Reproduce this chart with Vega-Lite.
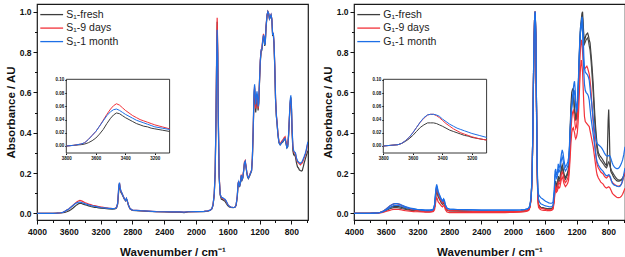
{
"$schema":"https://vega.github.io/schema/vega-lite/v6.json",
"padding":{"left":4,"top":3,"right":0,"bottom":0},
"spacing":12,
"resolve":{"scale":{"color":"independent"},"legend":{"color":"independent"}},
"config":{
 "font":"Liberation Sans",
 "view":{"stroke":"#1a1a1a","strokeWidth":1.2},
 "axis":{"labelFont":"Liberation Sans","labelFontWeight":"bold","titleFont":"Liberation Sans","titleFontWeight":"bold","labelColor":"#111","titleColor":"#111","tickColor":"#111","tickWidth":1,"domain":false,"grid":false,"labelFlush":false},
 "legend":{"labelFont":"Liberation Sans"}
},
"datasets":{
"S":[
{"w":4000,"f":0,"r":0,"b":0},{"w":3900,"f":0,"r":0,"b":0},{"w":3800,"f":0,"r":0,"b":0},
{"w":3750,"f":0.001,"r":0.001,"b":0.001},{"w":3700,"f":0.002,"r":0.003,"b":0.003},{"w":3675,"f":0.003,"r":0.005,"b":0.005},
{"w":3650,"f":0.005,"r":0.010,"b":0.010},{"w":3625,"f":0.008,"r":0.016,"b":0.016},{"w":3600,"f":0.012,"r":0.022,"b":0.022},
{"w":3575,"f":0.018,"r":0.030,"b":0.030},{"w":3550,"f":0.025,"r":0.039,"b":0.038},{"w":3525,"f":0.034,"r":0.048,"b":0.046},
{"w":3500,"f":0.042,"r":0.056,"b":0.052},{"w":3480,"f":0.047,"r":0.061,"b":0.055},{"w":3460,"f":0.050,"r":0.064,"b":0.056},
{"w":3440,"f":0.049,"r":0.062,"b":0.054},{"w":3420,"f":0.046,"r":0.058,"b":0.051},{"w":3400,"f":0.043,"r":0.054,"b":0.048},
{"w":3375,"f":0.040,"r":0.050,"b":0.045},{"w":3350,"f":0.037,"r":0.046,"b":0.042},{"w":3325,"f":0.034,"r":0.043,"b":0.039},
{"w":3300,"f":0.032,"r":0.040,"b":0.037},{"w":3275,"f":0.030,"r":0.038,"b":0.035},{"w":3250,"f":0.029,"r":0.036,"b":0.033},
{"w":3225,"f":0.027,"r":0.034,"b":0.031},{"w":3200,"f":0.026,"r":0.032,"b":0.029},{"w":3150,"f":0.024,"r":0.029,"b":0.027},
{"w":3100,"f":0.022,"r":0.026,"b":0.025},{"w":3050,"f":0.021,"r":0.024,"b":0.023},{"w":3020,"f":0.022,"r":0.025,"b":0.024},
{"w":3000,"f":0.026,"r":0.029,"b":0.028},{"w":2985,"f":0.045,"r":0.050,"b":0.050},{"w":2970,"f":0.120,"r":0.135,"b":0.140},
{"w":2962,"f":0.145,"r":0.150,"b":0.152},{"w":2955,"f":0.125,"r":0.130,"b":0.130},{"w":2945,"f":0.105,"r":0.110,"b":0.112},
{"w":2930,"f":0.095,"r":0.100,"b":0.100},{"w":2915,"f":0.082,"r":0.085,"b":0.085},{"w":2900,"f":0.070,"r":0.072,"b":0.072},
{"w":2885,"f":0.062,"r":0.064,"b":0.064},{"w":2875,"f":0.072,"r":0.073,"b":0.074},{"w":2865,"f":0.062,"r":0.063,"b":0.064},
{"w":2850,"f":0.040,"r":0.042,"b":0.042},{"w":2830,"f":0.022,"r":0.024,"b":0.024},{"w":2800,"f":0.015,"r":0.016,"b":0.016},
{"w":2700,"f":0.012,"r":0.013,"b":0.013},{"w":2600,"f":0.010,"r":0.011,"b":0.011},{"w":2500,"f":0.008,"r":0.009,"b":0.009},
{"w":2400,"f":0.007,"r":0.008,"b":0.008},{"w":2300,"f":0.006,"r":0.007,"b":0.007},{"w":2200,"f":0.006,"r":0.007,"b":0.007},
{"w":2150,"f":0.004,"r":0.006,"b":0.006},{"w":2100,"f":0.007,"r":0.008,"b":0.008},{"w":2000,"f":0.008,"r":0.009,"b":0.009},
{"w":1900,"f":0.009,"r":0.010,"b":0.010},{"w":1850,"f":0.011,"r":0.012,"b":0.012},{"w":1820,"f":0.015,"r":0.016,"b":0.016},
{"w":1800,"f":0.022,"r":0.023,"b":0.023},{"w":1785,"f":0.040,"r":0.042,"b":0.042},{"w":1770,"f":0.090,"r":0.095,"b":0.095},
{"w":1758,"f":0.200,"r":0.210,"b":0.210},{"w":1748,"f":0.450,"r":0.470,"b":0.460},{"w":1740,"f":0.750,"r":0.780,"b":0.740},
{"w":1733,"f":0.950,"r":0.970,"b":0.910},{"w":1726,"f":0.800,"r":0.820,"b":0.780},{"w":1718,"f":0.450,"r":0.470,"b":0.440},
{"w":1708,"f":0.180,"r":0.190,"b":0.180},{"w":1695,"f":0.090,"r":0.095,"b":0.095},{"w":1680,"f":0.070,"r":0.078,"b":0.080},
{"w":1665,"f":0.068,"r":0.075,"b":0.078},{"w":1650,"f":0.064,"r":0.070,"b":0.074},{"w":1635,"f":0.060,"r":0.068,"b":0.070},
{"w":1620,"f":0.050,"r":0.060,"b":0.062},{"w":1600,"f":0.038,"r":0.045,"b":0.045},{"w":1580,"f":0.032,"r":0.035,"b":0.035},
{"w":1560,"f":0.030,"r":0.031,"b":0.031},{"w":1530,"f":0.028,"r":0.029,"b":0.029},{"w":1510,"f":0.030,"r":0.030,"b":0.030},
{"w":1495,"f":0.040,"r":0.040,"b":0.040},{"w":1480,"f":0.080,"r":0.085,"b":0.085},{"w":1470,"f":0.140,"r":0.150,"b":0.150},
{"w":1462,"f":0.155,"r":0.160,"b":0.158},{"w":1452,"f":0.130,"r":0.135,"b":0.132},{"w":1440,"f":0.150,"r":0.155,"b":0.152},
{"w":1430,"f":0.185,"r":0.192,"b":0.190},{"w":1420,"f":0.165,"r":0.170,"b":0.168},{"w":1410,"f":0.175,"r":0.180,"b":0.178},
{"w":1400,"f":0.210,"r":0.215,"b":0.210},{"w":1390,"f":0.245,"r":0.255,"b":0.250},{"w":1380,"f":0.255,"r":0.262,"b":0.258},
{"w":1370,"f":0.230,"r":0.235,"b":0.232},{"w":1360,"f":0.200,"r":0.205,"b":0.202},{"w":1350,"f":0.180,"r":0.185,"b":0.182},
{"w":1340,"f":0.172,"r":0.178,"b":0.175},{"w":1325,"f":0.185,"r":0.190,"b":0.188},{"w":1310,"f":0.200,"r":0.205,"b":0.203},
{"w":1300,"f":0.210,"r":0.215,"b":0.212},{"w":1290,"f":0.270,"r":0.275,"b":0.272},{"w":1280,"f":0.400,"r":0.410,"b":0.410},
{"w":1270,"f":0.560,"r":0.580,"b":0.600},{"w":1262,"f":0.620,"r":0.630,"b":0.640},{"w":1255,"f":0.560,"r":0.570,"b":0.590},
{"w":1248,"f":0.500,"r":0.520,"b":0.540},{"w":1240,"f":0.540,"r":0.560,"b":0.580},{"w":1232,"f":0.580,"r":0.590,"b":0.605},
{"w":1225,"f":0.560,"r":0.570,"b":0.580},{"w":1218,"f":0.510,"r":0.520,"b":0.530},{"w":1210,"f":0.540,"r":0.550,"b":0.550},
{"w":1200,"f":0.650,"r":0.660,"b":0.660},{"w":1190,"f":0.750,"r":0.760,"b":0.760},{"w":1180,"f":0.800,"r":0.810,"b":0.810},
{"w":1170,"f":0.810,"r":0.820,"b":0.815},{"w":1160,"f":0.850,"r":0.860,"b":0.855},{"w":1150,"f":0.880,"r":0.890,"b":0.885},
{"w":1142,"f":0.870,"r":0.875,"b":0.870},{"w":1135,"f":0.830,"r":0.840,"b":0.835},{"w":1128,"f":0.840,"r":0.850,"b":0.845},
{"w":1118,"f":0.920,"r":0.930,"b":0.925},{"w":1105,"f":0.980,"r":0.985,"b":0.985},{"w":1095,"f":1.000,"r":1.000,"b":1.000},
{"w":1085,"f":0.990,"r":0.990,"b":0.992},{"w":1075,"f":0.965,"r":0.965,"b":0.965},{"w":1065,"f":0.970,"r":0.975,"b":0.975},
{"w":1055,"f":0.985,"r":0.985,"b":0.985},{"w":1045,"f":0.960,"r":0.965,"b":0.962},{"w":1035,"f":0.880,"r":0.885,"b":0.885},
{"w":1027,"f":0.890,"r":0.895,"b":0.895},{"w":1018,"f":0.840,"r":0.850,"b":0.850},{"w":1008,"f":0.720,"r":0.730,"b":0.730},
{"w":998,"f":0.560,"r":0.570,"b":0.565},{"w":988,"f":0.480,"r":0.490,"b":0.485},{"w":978,"f":0.440,"r":0.445,"b":0.440},
{"w":968,"f":0.390,"r":0.395,"b":0.390},{"w":955,"f":0.350,"r":0.355,"b":0.350},{"w":940,"f":0.340,"r":0.345,"b":0.340},
{"w":920,"f":0.350,"r":0.358,"b":0.352},{"w":905,"f":0.355,"r":0.365,"b":0.358},{"w":890,"f":0.365,"r":0.375,"b":0.368},
{"w":878,"f":0.370,"r":0.380,"b":0.372},{"w":866,"f":0.345,"r":0.355,"b":0.345},{"w":855,"f":0.325,"r":0.335,"b":0.325},
{"w":845,"f":0.330,"r":0.340,"b":0.332},{"w":835,"f":0.380,"r":0.390,"b":0.385},{"w":825,"f":0.460,"r":0.470,"b":0.470},
{"w":815,"f":0.540,"r":0.545,"b":0.560},{"w":806,"f":0.575,"r":0.570,"b":0.585},{"w":798,"f":0.520,"r":0.515,"b":0.530},
{"w":790,"f":0.400,"r":0.410,"b":0.420},{"w":780,"f":0.310,"r":0.330,"b":0.335},{"w":770,"f":0.290,"r":0.305,"b":0.310},
{"w":760,"f":0.290,"r":0.300,"b":0.305},{"w":748,"f":0.280,"r":0.295,"b":0.300},{"w":735,"f":0.250,"r":0.270,"b":0.275},
{"w":722,"f":0.230,"r":0.255,"b":0.260},{"w":710,"f":0.225,"r":0.250,"b":0.255},{"w":698,"f":0.215,"r":0.245,"b":0.250},
{"w":686,"f":0.212,"r":0.240,"b":0.248},{"w":675,"f":0.210,"r":0.245,"b":0.252},{"w":662,"f":0.212,"r":0.250,"b":0.258},
{"w":650,"f":0.230,"r":0.262,"b":0.270},{"w":638,"f":0.250,"r":0.275,"b":0.282},{"w":625,"f":0.268,"r":0.290,"b":0.296},
{"w":612,"f":0.285,"r":0.310,"b":0.315},{"w":600,"f":0.300,"r":0.335,"b":0.340},{"w":590,"f":0.310,"r":0.350,"b":0.355}
],
"G":[
{"w":4000,"f1":0,"f2":0,"r1":0,"r2":0,"b1":0,"b2":0},
{"w":3900,"f1":0,"f2":0,"r1":0,"r2":0,"b1":0,"b2":0},
{"w":3800,"f1":0,"f2":0,"r1":0,"r2":0,"b1":0,"b2":0},
{"w":3750,"f1":0.001,"f2":0.001,"r1":0.001,"r2":0.001,"b1":0.001,"b2":0.001},
{"w":3700,"f1":0.002,"f2":0.002,"r1":0.002,"r2":0.001,"b1":0.002,"b2":0.002},
{"w":3675,"f1":0.004,"f2":0.003,"r1":0.004,"r2":0.002,"b1":0.004,"b2":0.003},
{"w":3650,"f1":0.007,"f2":0.006,"r1":0.008,"r2":0.004,"b1":0.008,"b2":0.006},
{"w":3625,"f1":0.011,"f2":0.009,"r1":0.013,"r2":0.006,"b1":0.013,"b2":0.010},
{"w":3600,"f1":0.016,"f2":0.013,"r1":0.020,"r2":0.009,"b1":0.020,"b2":0.015},
{"w":3575,"f1":0.022,"f2":0.018,"r1":0.028,"r2":0.012,"b1":0.028,"b2":0.021},
{"w":3550,"f1":0.028,"f2":0.023,"r1":0.036,"r2":0.015,"b1":0.036,"b2":0.028},
{"w":3525,"f1":0.032,"f2":0.026,"r1":0.042,"r2":0.018,"b1":0.043,"b2":0.034},
{"w":3500,"f1":0.035,"f2":0.028,"r1":0.047,"r2":0.020,"b1":0.047,"b2":0.038},
{"w":3480,"f1":0.035,"f2":0.028,"r1":0.048,"r2":0.020,"b1":0.048,"b2":0.040},
{"w":3460,"f1":0.035,"f2":0.028,"r1":0.048,"r2":0.020,"b1":0.048,"b2":0.040},
{"w":3440,"f1":0.034,"f2":0.027,"r1":0.046,"r2":0.019,"b1":0.047,"b2":0.039},
{"w":3420,"f1":0.032,"f2":0.026,"r1":0.043,"r2":0.018,"b1":0.045,"b2":0.037},
{"w":3400,"f1":0.030,"f2":0.024,"r1":0.039,"r2":0.017,"b1":0.041,"b2":0.034},
{"w":3375,"f1":0.027,"f2":0.022,"r1":0.034,"r2":0.015,"b1":0.037,"b2":0.031},
{"w":3350,"f1":0.024,"f2":0.020,"r1":0.030,"r2":0.013,"b1":0.033,"b2":0.028},
{"w":3325,"f1":0.022,"f2":0.018,"r1":0.026,"r2":0.012,"b1":0.030,"b2":0.026},
{"w":3300,"f1":0.020,"f2":0.016,"r1":0.023,"r2":0.011,"b1":0.027,"b2":0.024},
{"w":3275,"f1":0.018,"f2":0.015,"r1":0.020,"r2":0.010,"b1":0.025,"b2":0.022},
{"w":3250,"f1":0.016,"f2":0.014,"r1":0.018,"r2":0.009,"b1":0.023,"b2":0.021},
{"w":3225,"f1":0.015,"f2":0.013,"r1":0.016,"r2":0.008,"b1":0.021,"b2":0.020},
{"w":3200,"f1":0.013,"f2":0.012,"r1":0.014,"r2":0.008,"b1":0.019,"b2":0.019},
{"w":3150,"f1":0.011,"f2":0.011,"r1":0.011,"r2":0.007,"b1":0.016,"b2":0.018},
{"w":3100,"f1":0.009,"f2":0.010,"r1":0.009,"r2":0.006,"b1":0.013,"b2":0.017},
{"w":3050,"f1":0.009,"f2":0.010,"r1":0.009,"r2":0.006,"b1":0.013,"b2":0.017},
{"w":3020,"f1":0.010,"f2":0.011,"r1":0.010,"r2":0.007,"b1":0.015,"b2":0.018},
{"w":3000,"f1":0.014,"f2":0.014,"r1":0.014,"r2":0.009,"b1":0.020,"b2":0.022},
{"w":2985,"f1":0.035,"f2":0.032,"r1":0.035,"r2":0.020,"b1":0.045,"b2":0.045},
{"w":2970,"f1":0.100,"f2":0.090,"r1":0.100,"r2":0.060,"b1":0.120,"b2":0.115},
{"w":2960,"f1":0.122,"f2":0.110,"r1":0.125,"r2":0.078,"b1":0.144,"b2":0.135},
{"w":2952,"f1":0.112,"f2":0.100,"r1":0.115,"r2":0.072,"b1":0.132,"b2":0.125},
{"w":2942,"f1":0.092,"f2":0.082,"r1":0.095,"r2":0.058,"b1":0.110,"b2":0.105},
{"w":2930,"f1":0.082,"f2":0.074,"r1":0.085,"r2":0.052,"b1":0.098,"b2":0.094},
{"w":2915,"f1":0.068,"f2":0.062,"r1":0.070,"r2":0.044,"b1":0.084,"b2":0.080},
{"w":2900,"f1":0.055,"f2":0.050,"r1":0.058,"r2":0.036,"b1":0.070,"b2":0.066},
{"w":2885,"f1":0.048,"f2":0.044,"r1":0.050,"r2":0.032,"b1":0.062,"b2":0.058},
{"w":2872,"f1":0.058,"f2":0.052,"r1":0.060,"r2":0.040,"b1":0.072,"b2":0.068},
{"w":2862,"f1":0.050,"f2":0.045,"r1":0.052,"r2":0.034,"b1":0.064,"b2":0.060},
{"w":2850,"f1":0.030,"f2":0.028,"r1":0.032,"r2":0.018,"b1":0.042,"b2":0.040},
{"w":2830,"f1":0.016,"f2":0.016,"r1":0.018,"r2":0.007,"b1":0.026,"b2":0.025},
{"w":2800,"f1":0.012,"f2":0.013,"r1":0.013,"r2":0.004,"b1":0.021,"b2":0.021},
{"w":2700,"f1":0.012,"f2":0.012,"r1":0.012,"r2":0.004,"b1":0.019,"b2":0.019},
{"w":2600,"f1":0.011,"f2":0.011,"r1":0.011,"r2":0.004,"b1":0.018,"b2":0.018},
{"w":2500,"f1":0.010,"f2":0.010,"r1":0.010,"r2":0.004,"b1":0.017,"b2":0.017},
{"w":2400,"f1":0.010,"f2":0.010,"r1":0.010,"r2":0.004,"b1":0.016,"b2":0.016},
{"w":2300,"f1":0.009,"f2":0.010,"r1":0.009,"r2":0.004,"b1":0.016,"b2":0.016},
{"w":2200,"f1":0.009,"f2":0.009,"r1":0.009,"r2":0.004,"b1":0.016,"b2":0.016},
{"w":2100,"f1":0.009,"f2":0.009,"r1":0.009,"r2":0.004,"b1":0.016,"b2":0.016},
{"w":2000,"f1":0.009,"f2":0.010,"r1":0.009,"r2":0.005,"b1":0.016,"b2":0.016},
{"w":1900,"f1":0.010,"f2":0.011,"r1":0.010,"r2":0.006,"b1":0.017,"b2":0.017},
{"w":1850,"f1":0.012,"f2":0.013,"r1":0.012,"r2":0.008,"b1":0.019,"b2":0.019},
{"w":1820,"f1":0.015,"f2":0.016,"r1":0.015,"r2":0.011,"b1":0.022,"b2":0.022},
{"w":1800,"f1":0.020,"f2":0.020,"r1":0.020,"r2":0.015,"b1":0.027,"b2":0.026},
{"w":1785,"f1":0.035,"f2":0.035,"r1":0.035,"r2":0.030,"b1":0.042,"b2":0.040},
{"w":1770,"f1":0.080,"f2":0.080,"r1":0.080,"r2":0.075,"b1":0.090,"b2":0.085},
{"w":1758,"f1":0.200,"f2":0.200,"r1":0.200,"r2":0.195,"b1":0.210,"b2":0.205},
{"w":1748,"f1":0.450,"f2":0.450,"r1":0.450,"r2":0.450,"b1":0.460,"b2":0.455},
{"w":1738,"f1":0.780,"f2":0.780,"r1":0.780,"r2":0.780,"b1":0.790,"b2":0.785},
{"w":1728,"f1":0.960,"f2":0.960,"r1":0.960,"r2":0.960,"b1":0.960,"b2":0.960},
{"w":1720,"f1":1.000,"f2":1.000,"r1":1.000,"r2":1.000,"b1":1.000,"b2":1.000},
{"w":1712,"f1":0.880,"f2":0.880,"r1":0.870,"r2":0.860,"b1":0.890,"b2":0.885},
{"w":1704,"f1":0.550,"f2":0.550,"r1":0.530,"r2":0.520,"b1":0.570,"b2":0.560},
{"w":1696,"f1":0.250,"f2":0.250,"r1":0.240,"r2":0.230,"b1":0.280,"b2":0.270},
{"w":1688,"f1":0.100,"f2":0.100,"r1":0.090,"r2":0.080,"b1":0.130,"b2":0.110},
{"w":1678,"f1":0.045,"f2":0.042,"r1":0.038,"r2":0.030,"b1":0.095,"b2":0.070},
{"w":1665,"f1":0.035,"f2":0.033,"r1":0.030,"r2":0.022,"b1":0.085,"b2":0.055},
{"w":1650,"f1":0.030,"f2":0.030,"r1":0.026,"r2":0.018,"b1":0.078,"b2":0.048},
{"w":1630,"f1":0.028,"f2":0.028,"r1":0.024,"r2":0.016,"b1":0.072,"b2":0.044},
{"w":1610,"f1":0.026,"f2":0.026,"r1":0.022,"r2":0.015,"b1":0.066,"b2":0.040},
{"w":1590,"f1":0.024,"f2":0.025,"r1":0.020,"r2":0.014,"b1":0.060,"b2":0.037},
{"w":1570,"f1":0.023,"f2":0.024,"r1":0.018,"r2":0.013,"b1":0.056,"b2":0.035},
{"w":1550,"f1":0.022,"f2":0.023,"r1":0.017,"r2":0.013,"b1":0.052,"b2":0.033},
{"w":1530,"f1":0.022,"f2":0.023,"r1":0.017,"r2":0.013,"b1":0.050,"b2":0.032},
{"w":1510,"f1":0.024,"f2":0.025,"r1":0.019,"r2":0.015,"b1":0.050,"b2":0.033},
{"w":1495,"f1":0.030,"f2":0.030,"r1":0.025,"r2":0.020,"b1":0.056,"b2":0.040},
{"w":1480,"f1":0.080,"f2":0.080,"r1":0.070,"r2":0.060,"b1":0.120,"b2":0.100},
{"w":1470,"f1":0.150,"f2":0.140,"r1":0.125,"r2":0.110,"b1":0.210,"b2":0.190},
{"w":1462,"f1":0.160,"f2":0.150,"r1":0.135,"r2":0.120,"b1":0.220,"b2":0.200},
{"w":1452,"f1":0.140,"f2":0.130,"r1":0.118,"r2":0.105,"b1":0.190,"b2":0.175},
{"w":1440,"f1":0.150,"f2":0.140,"r1":0.128,"r2":0.112,"b1":0.205,"b2":0.185},
{"w":1430,"f1":0.185,"f2":0.170,"r1":0.155,"r2":0.135,"b1":0.245,"b2":0.220},
{"w":1420,"f1":0.170,"f2":0.158,"r1":0.145,"r2":0.125,"b1":0.225,"b2":0.205},
{"w":1410,"f1":0.175,"f2":0.162,"r1":0.150,"r2":0.130,"b1":0.235,"b2":0.212},
{"w":1400,"f1":0.200,"f2":0.185,"r1":0.170,"r2":0.150,"b1":0.265,"b2":0.240},
{"w":1390,"f1":0.225,"f2":0.210,"r1":0.195,"r2":0.170,"b1":0.295,"b2":0.265},
{"w":1380,"f1":0.240,"f2":0.225,"r1":0.205,"r2":0.180,"b1":0.315,"b2":0.280},
{"w":1370,"f1":0.225,"f2":0.210,"r1":0.195,"r2":0.170,"b1":0.300,"b2":0.265},
{"w":1360,"f1":0.200,"f2":0.188,"r1":0.175,"r2":0.150,"b1":0.270,"b2":0.240},
{"w":1350,"f1":0.185,"f2":0.175,"r1":0.160,"r2":0.140,"b1":0.245,"b2":0.220},
{"w":1340,"f1":0.178,"f2":0.168,"r1":0.152,"r2":0.132,"b1":0.230,"b2":0.210},
{"w":1325,"f1":0.190,"f2":0.180,"r1":0.160,"r2":0.140,"b1":0.240,"b2":0.220},
{"w":1310,"f1":0.205,"f2":0.195,"r1":0.175,"r2":0.150,"b1":0.255,"b2":0.235},
{"w":1300,"f1":0.225,"f2":0.212,"r1":0.190,"r2":0.165,"b1":0.275,"b2":0.255},
{"w":1290,"f1":0.300,"f2":0.280,"r1":0.240,"r2":0.210,"b1":0.330,"b2":0.310},
{"w":1280,"f1":0.420,"f2":0.390,"r1":0.320,"r2":0.280,"b1":0.420,"b2":0.400},
{"w":1270,"f1":0.540,"f2":0.500,"r1":0.410,"r2":0.350,"b1":0.500,"b2":0.480},
{"w":1260,"f1":0.600,"f2":0.560,"r1":0.470,"r2":0.400,"b1":0.540,"b2":0.520},
{"w":1250,"f1":0.615,"f2":0.580,"r1":0.500,"r2":0.420,"b1":0.580,"b2":0.550},
{"w":1240,"f1":0.620,"f2":0.590,"r1":0.510,"r2":0.425,"b1":0.620,"b2":0.580},
{"w":1232,"f1":0.560,"f2":0.540,"r1":0.490,"r2":0.410,"b1":0.645,"b2":0.600},
{"w":1225,"f1":0.520,"f2":0.500,"r1":0.470,"r2":0.400,"b1":0.655,"b2":0.610},
{"w":1218,"f1":0.500,"f2":0.490,"r1":0.440,"r2":0.380,"b1":0.620,"b2":0.580},
{"w":1210,"f1":0.470,"f2":0.460,"r1":0.420,"r2":0.370,"b1":0.560,"b2":0.530},
{"w":1200,"f1":0.480,"f2":0.470,"r1":0.430,"r2":0.380,"b1":0.520,"b2":0.500},
{"w":1190,"f1":0.520,"f2":0.510,"r1":0.470,"r2":0.400,"b1":0.540,"b2":0.520},
{"w":1180,"f1":0.600,"f2":0.590,"r1":0.540,"r2":0.450,"b1":0.620,"b2":0.600},
{"w":1170,"f1":0.720,"f2":0.700,"r1":0.640,"r2":0.540,"b1":0.740,"b2":0.720},
{"w":1160,"f1":0.840,"f2":0.820,"r1":0.740,"r2":0.640,"b1":0.850,"b2":0.830},
{"w":1150,"f1":0.920,"f2":0.900,"r1":0.820,"r2":0.720,"b1":0.920,"b2":0.900},
{"w":1140,"f1":0.960,"f2":0.940,"r1":0.860,"r2":0.760,"b1":0.950,"b2":0.930},
{"w":1132,"f1":0.990,"f2":0.960,"r1":0.850,"r2":0.740,"b1":0.975,"b2":0.950},
{"w":1124,"f1":1.000,"f2":0.970,"r1":0.800,"r2":0.700,"b1":0.960,"b2":0.900},
{"w":1116,"f1":0.940,"f2":0.920,"r1":0.750,"r2":0.620,"b1":0.880,"b2":0.800},
{"w":1108,"f1":0.880,"f2":0.860,"r1":0.720,"r2":0.540,"b1":0.780,"b2":0.700},
{"w":1100,"f1":0.860,"f2":0.840,"r1":0.715,"r2":0.480,"b1":0.720,"b2":0.640},
{"w":1090,"f1":0.870,"f2":0.850,"r1":0.720,"r2":0.455,"b1":0.700,"b2":0.610},
{"w":1080,"f1":0.885,"f2":0.860,"r1":0.725,"r2":0.450,"b1":0.695,"b2":0.600},
{"w":1070,"f1":0.890,"f2":0.865,"r1":0.730,"r2":0.445,"b1":0.690,"b2":0.595},
{"w":1060,"f1":0.894,"f2":0.870,"r1":0.720,"r2":0.440,"b1":0.685,"b2":0.590},
{"w":1050,"f1":0.880,"f2":0.855,"r1":0.705,"r2":0.435,"b1":0.675,"b2":0.580},
{"w":1040,"f1":0.860,"f2":0.830,"r1":0.690,"r2":0.430,"b1":0.660,"b2":0.560},
{"w":1030,"f1":0.845,"f2":0.810,"r1":0.660,"r2":0.410,"b1":0.620,"b2":0.520},
{"w":1020,"f1":0.800,"f2":0.770,"r1":0.620,"r2":0.390,"b1":0.580,"b2":0.480},
{"w":1010,"f1":0.755,"f2":0.720,"r1":0.560,"r2":0.370,"b1":0.550,"b2":0.450},
{"w":1000,"f1":0.700,"f2":0.660,"r1":0.500,"r2":0.350,"b1":0.510,"b2":0.420},
{"w":990,"f1":0.640,"f2":0.600,"r1":0.450,"r2":0.330,"b1":0.470,"b2":0.390},
{"w":980,"f1":0.560,"f2":0.520,"r1":0.400,"r2":0.300,"b1":0.430,"b2":0.360},
{"w":970,"f1":0.490,"f2":0.450,"r1":0.350,"r2":0.270,"b1":0.400,"b2":0.330},
{"w":960,"f1":0.430,"f2":0.400,"r1":0.300,"r2":0.240,"b1":0.375,"b2":0.300},
{"w":950,"f1":0.380,"f2":0.350,"r1":0.262,"r2":0.210,"b1":0.355,"b2":0.272},
{"w":940,"f1":0.335,"f2":0.310,"r1":0.240,"r2":0.190,"b1":0.345,"b2":0.255},
{"w":925,"f1":0.300,"f2":0.285,"r1":0.225,"r2":0.175,"b1":0.340,"b2":0.240},
{"w":910,"f1":0.288,"f2":0.272,"r1":0.215,"r2":0.165,"b1":0.335,"b2":0.230},
{"w":895,"f1":0.280,"f2":0.262,"r1":0.205,"r2":0.155,"b1":0.330,"b2":0.220},
{"w":880,"f1":0.272,"f2":0.255,"r1":0.200,"r2":0.150,"b1":0.322,"b2":0.214},
{"w":865,"f1":0.262,"f2":0.247,"r1":0.195,"r2":0.145,"b1":0.312,"b2":0.208},
{"w":850,"f1":0.252,"f2":0.238,"r1":0.185,"r2":0.135,"b1":0.300,"b2":0.198},
{"w":835,"f1":0.242,"f2":0.230,"r1":0.178,"r2":0.128,"b1":0.290,"b2":0.190},
{"w":822,"f1":0.238,"f2":0.226,"r1":0.175,"r2":0.125,"b1":0.285,"b2":0.186},
{"w":812,"f1":0.300,"f2":0.236,"r1":0.180,"r2":0.128,"b1":0.284,"b2":0.188},
{"w":802,"f1":0.460,"f2":0.250,"r1":0.185,"r2":0.130,"b1":0.285,"b2":0.190},
{"w":795,"f1":0.515,"f2":0.255,"r1":0.187,"r2":0.132,"b1":0.286,"b2":0.192},
{"w":788,"f1":0.420,"f2":0.250,"r1":0.185,"r2":0.130,"b1":0.287,"b2":0.190},
{"w":780,"f1":0.280,"f2":0.235,"r1":0.180,"r2":0.126,"b1":0.285,"b2":0.185},
{"w":770,"f1":0.210,"f2":0.222,"r1":0.170,"r2":0.118,"b1":0.275,"b2":0.175},
{"w":760,"f1":0.200,"f2":0.212,"r1":0.160,"r2":0.110,"b1":0.262,"b2":0.160},
{"w":750,"f1":0.195,"f2":0.205,"r1":0.155,"r2":0.100,"b1":0.250,"b2":0.150},
{"w":740,"f1":0.185,"f2":0.198,"r1":0.150,"r2":0.095,"b1":0.240,"b2":0.145},
{"w":725,"f1":0.175,"f2":0.188,"r1":0.145,"r2":0.090,"b1":0.230,"b2":0.140},
{"w":710,"f1":0.168,"f2":0.180,"r1":0.140,"r2":0.085,"b1":0.225,"b2":0.138},
{"w":695,"f1":0.162,"f2":0.172,"r1":0.137,"r2":0.080,"b1":0.222,"b2":0.135},
{"w":680,"f1":0.160,"f2":0.168,"r1":0.135,"r2":0.078,"b1":0.222,"b2":0.133},
{"w":665,"f1":0.160,"f2":0.165,"r1":0.135,"r2":0.078,"b1":0.226,"b2":0.132},
{"w":650,"f1":0.162,"f2":0.165,"r1":0.138,"r2":0.080,"b1":0.235,"b2":0.135},
{"w":635,"f1":0.165,"f2":0.168,"r1":0.145,"r2":0.085,"b1":0.248,"b2":0.145},
{"w":620,"f1":0.172,"f2":0.175,"r1":0.160,"r2":0.095,"b1":0.265,"b2":0.165},
{"w":605,"f1":0.185,"f2":0.188,"r1":0.182,"r2":0.110,"b1":0.292,"b2":0.195},
{"w":590,"f1":0.200,"f2":0.200,"r1":0.205,"r2":0.125,"b1":0.330,"b2":0.225}
]},
"hconcat":[
{
 "width":271,"height":216,
 "data":{"name":"S"},
 "transform":[{"fold":["f","r","b"],"as":["k","a"]}],
 "layer":[
  {"mark":{"type":"line","clip":true,"strokeWidth":1.2},
   "encoding":{
    "x":{"field":"w","type":"quantitative","scale":{"domain":[4000,590],"nice":false,"zero":false},
     "axis":{"orient":"bottom","values":[4000,3600,3200,2800,2400,2000,1600,1200,800],"format":"d","title":"Wavenumber / cm⁻¹","labelFontSize":8.5,"titleFontSize":11.5,"tickSize":4,"labelPadding":3,"titlePadding":11}},
    "y":{"field":"a","type":"quantitative","scale":{"domain":[-0.033,1.038],"nice":false,"zero":false},
     "axis":{"orient":"left","values":[0,0.2,0.4,0.6,0.8,1],"format":".1f","title":"Absorbance / AU","labelFontSize":8.5,"titleFontSize":11.5,"tickSize":4,"labelPadding":2,"titlePadding":3}},
    "color":{"field":"k","type":"nominal","scale":{"domain":["f","r","b"],"range":["#3d3d3d","#f2323a","#1d6fe6"]},
     "legend":{"orient":"none","legendX":7.7,"legendY":3.6,"title":null,"padding":0,"labelExpr":"datum.label == 'f' ? 'S₁-fresh' : datum.label == 'r' ? 'S₁-9 days' : 'S₁-1 month'","symbolType":"M-1.9,0H1.9","symbolSize":144,"symbolStrokeWidth":1.3,"labelFontSize":10.5,"labelColor":"#222","labelOffset":7.6,"rowPadding":0.5}}
   }},
  {"mark":{"type":"line","opacity":0},
   "encoding":{
    "x":{"field":"w","type":"quantitative","scale":{"domain":[4000,590],"nice":false,"zero":false},
     "axis":{"orient":"bottom","values":[3800,3400,3000,2600,2200,1800,1400,1000,600],"labels":false,"tickSize":2.5,"title":null}},
    "y":{"field":"a","type":"quantitative","scale":{"domain":[-0.033,1.038],"nice":false,"zero":false},
     "axis":{"orient":"left","values":[0.1,0.3,0.5,0.7,0.9],"labels":false,"tickSize":2.5,"title":null}}
   }},
  {"data":{"values":[{}]},
   "mark":{"type":"rect","fill":null,"stroke":"#222","strokeWidth":0.9},
   "encoding":{
    "x":{"datum":3800,"type":"quantitative","scale":{"domain":[3800,3100],"range":[29.3,132.6],"nice":false,"zero":false},"axis":null},
    "x2":{"datum":3100},
    "y":{"datum":-0.0106,"type":"quantitative","scale":{"domain":[-0.0106,0.101],"range":[149,75.3],"nice":false,"zero":false},"axis":null},
    "y2":{"datum":0.101}
   }},
  {"transform":[{"filter":{"field":"w","range":[3100,3800]}}],
   "mark":{"type":"line","strokeWidth":1},
   "encoding":{
    "x":{"field":"w","type":"quantitative","scale":{"domain":[3800,3100],"range":[29.3,132.6],"nice":false,"zero":false},
     "axis":{"orient":"bottom","offset":-67,"values":[3800,3600,3400,3200],"format":"d","title":null,"labelFontSize":4.5,"tickSize":1.5,"labelPadding":1}},
    "y":{"field":"a","type":"quantitative","scale":{"domain":[-0.0106,0.101],"range":[149,75.3],"nice":false,"zero":false},
     "axis":{"orient":"left","offset":-29.3,"values":[0,0.02,0.04,0.06,0.08,0.1],"format":".2f","title":null,"labelFontSize":4.5,"tickSize":1.5,"labelPadding":1}},
    "color":{"field":"k","type":"nominal","scale":{"domain":["f","r","b"],"range":["#3d3d3d","#f2323a","#1d6fe6"]},"legend":null}
   }}
 ],
 "resolve":{"scale":{"x":"independent","y":"independent"}}
},
{
 "width":271,"height":216,
 "data":{"name":"G"},
 "transform":[{"fold":["f1","f2","r1","r2","b1","b2"],"as":["k","a"]}],
 "layer":[
  {"mark":{"type":"line","clip":true,"strokeWidth":1.2},
   "encoding":{
    "x":{"field":"w","type":"quantitative","scale":{"domain":[4000,590],"nice":false,"zero":false},
     "axis":{"orient":"bottom","values":[4000,3600,3200,2800,2400,2000,1600,1200,800],"format":"d","title":"Wavenumber / cm⁻¹","labelFontSize":8.5,"titleFontSize":11.5,"tickSize":4,"labelPadding":3,"titlePadding":11}},
    "y":{"field":"a","type":"quantitative","scale":{"domain":[-0.033,1.038],"nice":false,"zero":false},
     "axis":{"orient":"left","values":[0,0.2,0.4,0.6,0.8,1],"format":".1f","title":"Absorbance / AU","labelFontSize":8.5,"titleFontSize":11.5,"tickSize":4,"labelPadding":2,"titlePadding":3}},
    "color":{"field":"k","type":"nominal","scale":{"domain":["f1","f2","r1","r2","b1","b2"],"range":["#3d3d3d","#4a4a4a","#f2323a","#f2323a","#1d6fe6","#1d6fe6"]},
     "legend":{"orient":"none","legendX":7.7,"legendY":3.6,"values":["f1","r1","b1"],"title":null,"padding":0,"labelExpr":"datum.label == 'f1' ? 'G₁-fresh' : datum.label == 'r1' ? 'G₁-9 days' : 'G₁-1 month'","symbolType":"M-1.9,0H1.9","symbolSize":144,"symbolStrokeWidth":1.3,"labelFontSize":10.5,"labelColor":"#222","labelOffset":7.6,"rowPadding":0.5}}
   }},
  {"mark":{"type":"line","opacity":0},
   "encoding":{
    "x":{"field":"w","type":"quantitative","scale":{"domain":[4000,590],"nice":false,"zero":false},
     "axis":{"orient":"bottom","values":[3800,3400,3000,2600,2200,1800,1400,1000,600],"labels":false,"tickSize":2.5,"title":null}},
    "y":{"field":"a","type":"quantitative","scale":{"domain":[-0.033,1.038],"nice":false,"zero":false},
     "axis":{"orient":"left","values":[0.1,0.3,0.5,0.7,0.9],"labels":false,"tickSize":2.5,"title":null}}
   }},
  {"data":{"values":[{}]},
   "mark":{"type":"rect","fill":null,"stroke":"#222","strokeWidth":0.9},
   "encoding":{
    "x":{"datum":3800,"type":"quantitative","scale":{"domain":[3800,3100],"range":[29.3,132.6],"nice":false,"zero":false},"axis":null},
    "x2":{"datum":3100},
    "y":{"datum":-0.0106,"type":"quantitative","scale":{"domain":[-0.0106,0.101],"range":[149,75.3],"nice":false,"zero":false},"axis":null},
    "y2":{"datum":0.101}
   }},
  {"transform":[{"filter":{"field":"w","range":[3100,3800]}},{"filter":{"field":"k","oneOf":["f1","r1","b1"]}}],
   "mark":{"type":"line","strokeWidth":1},
   "encoding":{
    "x":{"field":"w","type":"quantitative","scale":{"domain":[3800,3100],"range":[29.3,132.6],"nice":false,"zero":false},
     "axis":{"orient":"bottom","offset":-67,"values":[3800,3600,3400,3200],"format":"d","title":null,"labelFontSize":4.5,"tickSize":1.5,"labelPadding":1}},
    "y":{"field":"a","type":"quantitative","scale":{"domain":[-0.0106,0.101],"range":[149,75.3],"nice":false,"zero":false},
     "axis":{"orient":"left","offset":-29.3,"values":[0,0.02,0.04,0.06,0.08,0.1],"format":".2f","title":null,"labelFontSize":4.5,"tickSize":1.5,"labelPadding":1}},
    "color":{"field":"k","type":"nominal","scale":{"domain":["f1","f2","r1","r2","b1","b2"],"range":["#3d3d3d","#4a4a4a","#f2323a","#f2323a","#1d6fe6","#1d6fe6"]},"legend":null}
   }}
 ],
 "resolve":{"scale":{"x":"independent","y":"independent"}}
}
]
}
